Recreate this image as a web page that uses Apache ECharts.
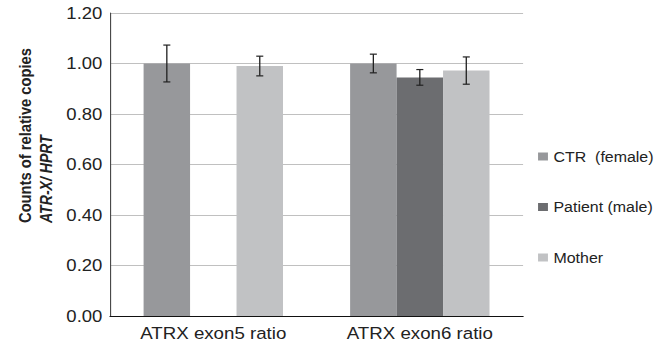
<!DOCTYPE html>
<html><head><meta charset="utf-8">
<script src="https://cdn.jsdelivr.net/npm/echarts@6/dist/echarts.min.js"></script>
<style>
html,body{margin:0;padding:0;background:#fff;overflow:hidden;width:669px;height:346px}
#c{width:608px;height:346px;transform:scaleX(1.1003);transform-origin:0 0}
</style>
</head><body><div id="c"></div>
<script>
var categories = ['ATRX exon5 ratio', 'ATRX exon6 ratio'];
var seriesNames = ['CTR  (female)', 'Patient (male)', 'Mother'];
var ctrValues = [1.00, 1.00];
var patientValues = ['-', 0.945];
var motherValues = [0.99, 0.972];
var ctrErr = [0.073, 0.037];
var patientErr = ['-', 0.031];
var motherErr = [0.039, 0.054];
var yTicks = ['0.00','0.20','0.40','0.60','0.80','1.00','1.20'];

var colors = ['#97989b', '#6c6d70', '#c1c2c4'];
var values = [ctrValues, patientValues, motherValues];
var errs = [ctrErr, patientErr, motherErr];
var catGap = 0.325;
var font = 'Liberation Sans, Arial, sans-serif';

var chart = echarts.init(document.getElementById('c'), null, { renderer: 'svg' });
var series = [];
values.forEach(function (vals, s) {
  series.push({
    name: seriesNames[s], type: 'bar', data: vals,
    barGap: '0%', barCategoryGap: (catGap * 100) + '%',
    itemStyle: { color: colors[s] }, silent: true
  });
});
values.forEach(function (vals, s) {
  var d = [];
  vals.forEach(function (v, i) {
    if (v !== '-') d.push([i, v - errs[s][i], v + errs[s][i]]);
  });
  series.push({
    type: 'custom', data: d, z: 10, silent: true,
    renderItem: function (params, api) {
      var band = api.size([1, 0])[0];
      var w = band * (1 - catGap) / 3;
      var c = api.coord([api.value(0), 0]);
      var x = c[0] + (s - 1) * w;
      var lo = api.coord([api.value(0), api.value(1)])[1];
      var hi = api.coord([api.value(0), api.value(2)])[1];
      var cap = 3.2;
      var st = { stroke: '#222', lineWidth: 1.2, fill: null };
      return { type: 'group', children: [
        { type: 'line', shape: { x1: x, y1: lo, x2: x, y2: hi }, style: st },
        { type: 'line', shape: { x1: x - cap, y1: lo, x2: x + cap, y2: lo }, style: st },
        { type: 'line', shape: { x1: x - cap, y1: hi, x2: x + cap, y2: hi }, style: st }
      ]};
    }
  });
});

chart.setOption({
  animation: false,
  grid: { left: 100, right: 132.6, top: 13, bottom: 30, containLabel: false },
  legend: {
    data: seriesNames, orient: 'vertical', left: 484, top: 144,
    itemWidth: 9, itemHeight: 8, itemGap: 35.5, icon: 'rect',
    textStyle: { fontFamily: font, fontSize: 14.5, color: '#222' }
  },
  xAxis: {
    type: 'category', data: categories,
    axisLine: { lineStyle: { color: '#111', width: 1.2 } },
    axisTick: { show: false },
    axisLabel: { fontFamily: font, fontSize: 17, color: '#222', margin: 9 }
  },
  yAxis: {
    type: 'value', min: 0, max: 1.2, interval: 0.2,
    axisLine: { show: true, lineStyle: { color: '#444', width: 1 } },
    axisTick: { show: false },
    splitLine: { lineStyle: { color: '#c0c0c0', width: 1.2 } },
    axisLabel: { fontFamily: font, fontSize: 16.8, color: '#222', margin: 7,
      formatter: function (v) { return yTicks[Math.round(v / 0.2)]; } }
  },
  graphic: [
    { type: 'text', x: 22.7, y: 223, rotation: Math.PI / 2, scaleX: 0.95,
      style: { text: 'Counts of relative copies', font: 'bold 15.5px ' + font, fill: '#222',
        textAlign: 'left', textVerticalAlign: 'middle' } },
    { type: 'text', x: 41.5, y: 223, rotation: Math.PI / 2, scaleX: 0.91,
      style: { text: 'ATR-X/ HPRT', font: 'italic bold 15.5px ' + font, fill: '#222',
        textAlign: 'left', textVerticalAlign: 'middle' } }
  ],
  series: series
});
</script></body></html>
